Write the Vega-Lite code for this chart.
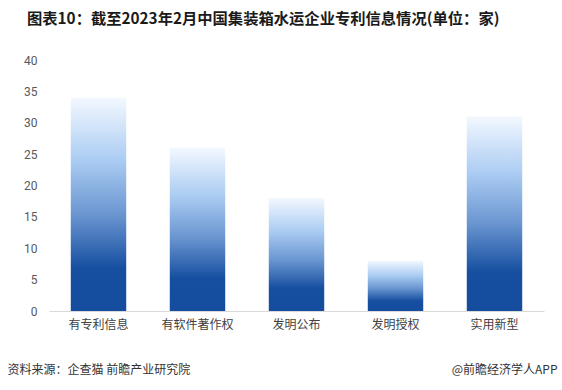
{
  "$schema": "https://vega.github.io/schema/vega-lite/v6.json",
  "width": 495,
  "height": 251,
  "autosize": {"type": "none"},
  "padding": {"left": 49, "top": 60, "right": 18, "bottom": 79},
  "background": "white",
  "title": {
    "text": "图表10：截至2023年2月中国集装箱水运企业专利信息情况(单位：家)",
    "anchor": "start",
    "frame": "group",
    "dx": -22,
    "offset": 27,
    "font": "Noto Sans CJK SC",
    "fontSize": 15.3,
    "fontWeight": "bold",
    "color": "#1a1a1a"
  },
  "data": {
    "values": [
      {"category": "有专利信息", "value": 34},
      {"category": "有软件著作权", "value": 26},
      {"category": "发明公布", "value": 18},
      {"category": "发明授权", "value": 8},
      {"category": "实用新型", "value": 31}
    ]
  },
  "mark": {
    "type": "bar",
    "color": {
      "gradient": "linear",
      "x1": 0, "y1": 0, "x2": 0, "y2": 1,
      "stops": [
        {"offset": 0, "color": "#f3f8ff"},
        {"offset": 0.3, "color": "#a9cbf2"},
        {"offset": 0.55, "color": "#6a95d0"},
        {"offset": 0.8, "color": "#164fa0"},
        {"offset": 1, "color": "#154c9e"}
      ]
    }
  },
  "encoding": {
    "x": {
      "field": "category",
      "type": "nominal",
      "sort": null,
      "scale": {"paddingInner": 0.44, "paddingOuter": 0.22},
      "axis": {
        "labelAngle": 0,
        "ticks": false,
        "domainColor": "#d9d9d9",
        "labelPadding": 8,
        "labelFont": "Noto Sans CJK SC",
        "labelFontSize": 12,
        "labelColor": "#404040",
        "title": "资料来源：企查猫 前瞻产业研究院",
        "titleFont": "Noto Sans CJK SC",
        "titleFontSize": 12,
        "titleFontWeight": "normal",
        "titleColor": "#333333",
        "titleAlign": "left",
        "titleAnchor": "start",
        "titleBaseline": "middle",
        "titleX": -42,
        "titleY": 58
      }
    },
    "y": {
      "field": "value",
      "type": "quantitative",
      "scale": {"domain": [0, 40]},
      "axis": {
        "values": [0, 5, 10, 15, 20, 25, 30, 35, 40],
        "grid": false,
        "domain": false,
        "ticks": false,
        "labelPadding": 12,
        "labelFont": "Roboto",
        "labelFontSize": 12,
        "labelColor": "#595959",
        "title": "@前瞻经济学人APP",
        "titleAngle": 0,
        "titleFont": "Noto Sans CJK SC",
        "titleFontSize": 12,
        "titleFontWeight": "normal",
        "titleColor": "#333333",
        "titleAlign": "right",
        "titleBaseline": "middle",
        "titleX": 508,
        "titleY": 309
      }
    }
  },
  "config": {"view": {"stroke": null}}
}
